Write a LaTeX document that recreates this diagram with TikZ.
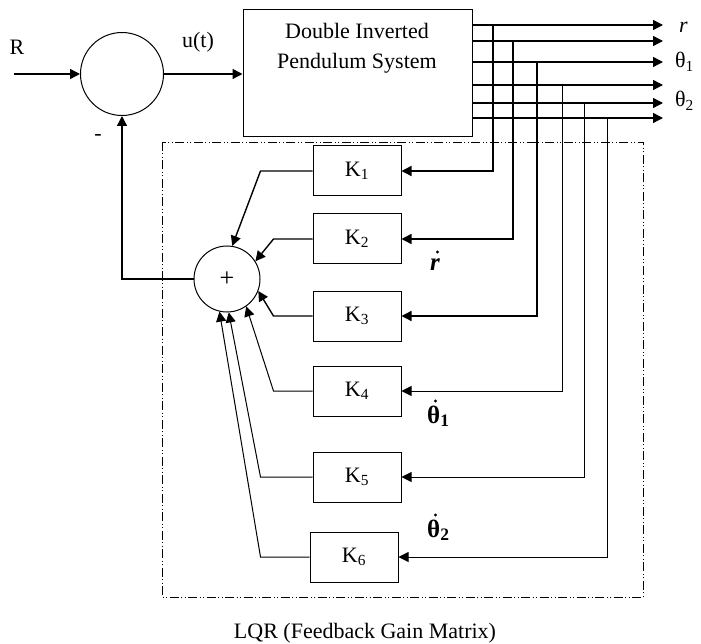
\documentclass[tikz,border=0pt]{standalone}
\usepackage{fontspec}
\setmainfont{Liberation Serif}
\usetikzlibrary{arrows.meta}
\begin{document}
\begin{tikzpicture}[x=1pt,y=-1pt,
  txt/.style={font=\fontsize{22}{30}\selectfont, inner sep=0pt},
  bold/.style={font=\fontsize{25}{30}\selectfont\bfseries, inner sep=0pt, anchor=base west},
  accentdot/.style={fill=black},
  conn/.style={line width=1.4pt, -{Triangle[length=10pt,width=10pt]}},
  thinconn/.style={line width=1pt, -{Triangle[length=10pt,width=10pt]}},
  gain/.style={draw, line width=1pt, minimum width=88pt, minimum height=50pt, inner sep=0pt, font=\fontsize{22}{26}\selectfont},
  junction/.style={circle, draw, line width=1pt, inner sep=0pt},
  lqrbox/.style={line width=0.8pt, dash pattern=on 9pt off 2.5pt on 1pt off 2.5pt on 1pt off 2.5pt}]
\useasboundingbox (0,0) rectangle (701,644);
% blocks
\node[junction, minimum size=83pt] (c1) at (122,74) {};
\node[draw, line width=1pt, minimum width=229pt, minimum height=127pt] (sys) at (357.5,73) {};
\node[txt, align=center, anchor=north] (systxt) at (357,23) {Double Inverted\\Pendulum System};
\draw[lqrbox] (162,142) rectangle (643,597);
\node[junction, minimum size=66pt, font=\fontsize{26}{30}\selectfont] (sum) at (227,279) {+};
\node[gain] (K1) at (357,171) {K\textsubscript{1}};
\node[gain] (K2) at (357,239) {K\textsubscript{2}};
\node[gain] (K3) at (357,316) {K\textsubscript{3}};
\node[gain] (K4) at (357,391) {K\textsubscript{4}};
\node[gain] (K5) at (357,477) {K\textsubscript{5}};
\node[gain] (K6) at (354,557) {K\textsubscript{6}};
% input side
\coordinate (Rin) at (14,74);
\draw[conn] (Rin) -- (c1.west);
\draw[conn] (c1.east) -- (c1.east -| sys.west);
\draw[conn] (sum.west) -| (c1.south);
% outputs
\coordinate (o1) at (663,25);
\coordinate (o2) at (663,41);
\coordinate (o3) at (663,62);
\coordinate (o4) at (663,85);
\coordinate (o5) at (663,103);
\coordinate (o6) at (663,118);
\foreach \i in {1,...,6}{\draw[conn] (sys.east |- o\i) -- (o\i);}
% taps
\coordinate (t1) at (493,25);
\coordinate (t2) at (513,41);
\coordinate (t3) at (537,62);
\coordinate (t4) at (562,85);
\coordinate (t5) at (584,103);
\coordinate (t6) at (607,118);
\draw[conn] (t1) |- (K1.east);
\draw[conn] (t2) |- (K2.east);
\draw[conn] (t3) |- (K3.east);
\draw[thinconn] (t4) |- (K4.east);
\draw[thinconn] (t5) |- (K5.east);
\draw[thinconn] (t6) |- (K6.east);
% gains to sum
\draw[conn] (K1.west) -- ++(-52,0) -- (sum.81);
\draw[conn] (K2.west) -- ++(-39,0) -- (sum.32);
\draw[conn] (K3.west) -- ++(-39,0) -- (sum.-21);
\draw[thinconn] (K4.west) -- ++(-39,0) -- (sum.-55);
\draw[thinconn] (K5.west) -- ++(-52,0) -- (sum.-87);
\draw[thinconn] (K6.west) -- ++(-49,0) -- (sum.-103);
% labels
\node[txt] (Rl) at (17,47) {R};
\node[txt] (ul) at (198,42) {u(t)};
\node[txt] (minus) at (98,137) {-};
\node[txt, anchor=base west] (rl) at (679,33) {\itshape r};
\node[txt, anchor=base west] (th1) at (675,68) {θ\textsubscript{1}};
\node[txt, anchor=base west] (th2) at (675,107) {θ\textsubscript{2}};
\node[bold] (rdot) at (430,270) {\itshape r};
\fill[accentdot] (437.5,252) circle (1.7pt);
\node[bold] (thd1) at (427,423) {θ\textsubscript{1}};
\fill[accentdot] (435.5,401) circle (1.7pt);
\node[bold] (thd2) at (427,537) {θ\textsubscript{2}};
\fill[accentdot] (435.5,515) circle (1.7pt);
\node[txt, anchor=base] (lqr) at (365,638) {LQR (Feedback Gain Matrix)};
\end{tikzpicture}
\end{document}
